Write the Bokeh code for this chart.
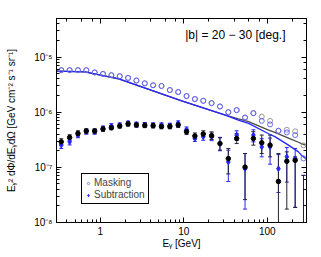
from bokeh.plotting import figure
from bokeh.models import (ColumnDataSource, Whisker, TeeHead, LogAxis, Legend, LegendItem,
                          CustomJSTickFormatter, Label)
from bokeh.embed import file_html
from bokeh.resources import INLINE

# ---- data ----
energy = [0.342, 0.431, 0.542, 0.682, 0.859, 1.081, 1.361, 1.714, 2.158, 2.716,
          3.420, 4.305, 5.420, 6.823, 8.590, 10.81, 13.61, 17.14, 21.58, 27.16,
          34.20, 43.05, 54.20, 68.23, 85.90, 108.1, 136.1, 171.4, 215.8, 271.6]

# total (open markers)
mask_total = [5.78e-6, 5.78e-6, 5.78e-6, 5.78e-6, 5.25e-6, 4.94e-6, 4.69e-6, 4.49e-6, 4.18e-6, 3.75e-6,
              3.34e-6, 3.08e-6, 2.99e-6, 2.52e-6, 2.32e-6, 1.96e-6, 1.73e-6, 1.61e-6, 1.46e-6, 1.27e-6,
              1.00e-6, 1.09e-6, 8.0e-7, 9.6e-7, 8.3e-7, 6.95e-7, 4.6e-7, 4.8e-7, 4.5e-7, 2.5e-7]
sub_total = [5.78e-6, 5.78e-6, 5.78e-6, 5.78e-6, 5.25e-6, 4.94e-6, 4.69e-6, 4.49e-6, 4.18e-6, 3.75e-6,
             3.34e-6, 3.08e-6, 2.99e-6, 2.52e-6, 2.32e-6, 1.96e-6, 1.73e-6, 1.61e-6, 1.46e-6, 1.27e-6,
             1.00e-6, 1.09e-6, 8.0e-7, 9.6e-7, 6.95e-7, 6.0e-7, 4.6e-7, 4.3e-7, 3.85e-7, 1.45e-7]

# residual (filled markers with error bars)
mask_res = [2.90e-7, 3.48e-7, 4.12e-7, 4.56e-7, 4.56e-7, 4.96e-7, 5.24e-7, 5.63e-7, 6.12e-7, 5.87e-7,
            5.77e-7, 5.70e-7, 5.53e-7, 5.53e-7, 5.87e-7, 4.43e-7, 3.70e-7, 4.02e-7, 3.74e-7, 2.70e-7,
            1.44e-7, 3.34e-7, 1.01e-7, 3.34e-7, 2.79e-7, 2.53e-7, 5.55e-8, 1.29e-7, 1.34e-7, 3e-9]
mask_lo = [2.55e-7, 3.1e-7, 3.7e-7, 4.1e-7, 4.1e-7, 4.5e-7, 4.8e-7, 5.15e-7, 5.6e-7, 5.35e-7,
           5.25e-7, 5.2e-7, 5.0e-7, 5.0e-7, 5.3e-7, 3.95e-7, 3.25e-7, 3.6e-7, 3.2e-7, 2.05e-7,
           7.6e-8, 2.7e-7, 2.6e-8, 2.53e-7, 1.78e-7, 1.55e-7, 5e-9, 1.75e-8, 1.88e-8, 1e-9]
mask_hi = [3.3e-7, 3.9e-7, 4.6e-7, 5.0e-7, 5.0e-7, 5.45e-7, 5.7e-7, 6.1e-7, 6.7e-7, 6.45e-7,
           6.35e-7, 6.25e-7, 6.1e-7, 6.1e-7, 6.5e-7, 4.95e-7, 4.2e-7, 4.6e-7, 4.4e-7, 3.44e-7,
           2.19e-7, 4.1e-7, 1.78e-7, 4.43e-7, 3.85e-7, 3.85e-7, 1.78e-7, 1.91e-7, 1.55e-7, 7.15e-8]

sub_res = [2.53e-7, 2.90e-7, 3.85e-7, 4.43e-7, 4.43e-7, 5.09e-7, 5.63e-7, 5.8e-7, 6.29e-7, 6.0e-7,
           5.87e-7, 5.8e-7, 5.8e-7, 5.7e-7, 6.29e-7, 4.82e-7, 3.34e-7, 3.6e-7, 3.58e-7, 2.70e-7,
           1.25e-7, 3.85e-7, 9.44e-8, 3.85e-7, 2.35e-7, 2.35e-7, 9.44e-8, 1.55e-7, 1.44e-7, 3e-9]
sub_lo = [2.2e-7, 2.55e-7, 3.45e-7, 4.0e-7, 4.0e-7, 4.6e-7, 5.1e-7, 5.25e-7, 5.7e-7, 5.45e-7,
          5.3e-7, 5.25e-7, 5.25e-7, 5.15e-7, 5.7e-7, 4.3e-7, 2.95e-7, 3.1e-7, 3.05e-7, 2.0e-7,
          5.55e-8, 3.1e-7, 1.75e-8, 2.9e-7, 1.55e-7, 1.14e-7, 3.5e-8, 5.4e-8, 1.88e-8, 1e-9]
sub_hi = [2.9e-7, 3.3e-7, 4.3e-7, 4.9e-7, 4.9e-7, 5.6e-7, 6.2e-7, 6.4e-7, 6.9e-7, 6.6e-7,
          6.5e-7, 6.4e-7, 6.4e-7, 6.3e-7, 6.95e-7, 5.4e-7, 3.8e-7, 4.2e-7, 4.2e-7, 3.5e-7,
          2.05e-7, 4.6e-7, 1.78e-7, 4.8e-7, 3.3e-7, 3.4e-7, 1.7e-7, 2.3e-7, 2.2e-7, 7.15e-8]

# model curves
model_e = [0.304, 0.656, 1.67, 9.46, 30.9, 45.1, 59.8, 103.7, 123.3, 179.6, 236.4, 257.0, 287.0]
model_mask = [5.55e-6, 5.38e-6, 4.01e-6, 1.61e-6, 8.95e-7, 7.56e-7, 6.75e-7, 4.75e-7, 4.30e-7, 3.40e-7, 2.85e-7, 2.70e-7, 2.53e-7]
model_sub = [5.55e-6, 5.38e-6, 4.01e-6, 1.61e-6, 8.95e-7, 7.2e-7, 6.29e-7, 4.07e-7, 3.6e-7, 2.53e-7, 1.91e-7, 1.65e-7, 1.44e-7]

x_ticks_lbl = ["1", "10", "100"]
annotation = "|b| = 20 \u2212 30 [deg.]"

BLUE = "#2626ff"
LBLUE = "#5a5aff"
GREY = "#8c8c8c"
DGREY = "#4a4a4a"
FONT = "Liberation Sans"

src = ColumnDataSource(dict(e=energy, mt=mask_total, st=sub_total,
                            mr=mask_res, mlo=mask_lo, mhi=mask_hi,
                            sr=sub_res, slo=sub_lo, shi=sub_hi))
msrc = ColumnDataSource(dict(e=model_e, m=model_mask, s=model_sub))

p = figure(x_axis_type="log", y_axis_type="log", x_range=(0.3, 295), y_range=(1e-8, 5e-5),
           frame_width=250, frame_height=204, output_backend="svg", toolbar_location=None,
           min_border_left=56, min_border_right=4, min_border_top=18, min_border_bottom=4)
p.background_fill_color = "white"
p.border_fill_color = "white"
p.outline_line_color = "black"
p.outline_line_alpha = 1
p.xgrid.visible = False
p.ygrid.visible = False

p.line("e", "m", source=msrc, line_color=DGREY, line_width=1.3)
p.line("e", "s", source=msrc, line_color=BLUE, line_width=1.3)

r_gm = p.scatter("e", "mt", source=src, marker="circle", size=5, fill_color=None,
                 line_color=GREY, line_width=0.9)
p.scatter("e", "st", source=src, marker="circle", size=5, fill_color=None,
          line_color=LBLUE, line_width=0.9)

p.add_layout(Whisker(source=src, base="e", upper="shi", lower="slo", dimension="height",
                     line_color=BLUE, line_width=1,
                     upper_head=TeeHead(size=4, line_color=BLUE, line_width=1),
                     lower_head=TeeHead(size=4, line_color=BLUE, line_width=1)))
r_bd = p.scatter("e", "sr", source=src, marker="diamond", size=5.5, fill_color=BLUE,
                 line_color=BLUE)
p.add_layout(Whisker(source=src, base="e", upper="mhi", lower="mlo", dimension="height",
                     line_color="#222233", line_width=1,
                     upper_head=TeeHead(size=4, line_color="#222233", line_width=1),
                     lower_head=TeeHead(size=4, line_color="#222233", line_width=1)))
p.scatter("e", "mr", source=src, marker="circle", size=4.5, fill_color="black",
          line_color="black")

yfmt = CustomJSTickFormatter(code="""
const e = Math.round(Math.log10(tick));
const m = {'-':'\u207B','0':'\u2070','1':'\u00B9','2':'\u00B2','3':'\u00B3','4':'\u2074','5':'\u2075','6':'\u2076','7':'\u2077','8':'\u2078','9':'\u2079'};
return '10' + String(e).split('').map(c => m[c]).join('');
""")
xfmt = CustomJSTickFormatter(args=dict(lbl=x_ticks_lbl), code="""
const e = Math.round(Math.log10(tick));
return (e >= 0 && e < lbl.length) ? lbl[e] : String(tick);
""")

def style(ax):
    ax.axis_line_color = "black"
    ax.axis_line_width = 1
    ax.major_tick_in = 5
    ax.major_tick_out = 0
    ax.minor_tick_in = 3
    ax.minor_tick_out = 0
    ax.major_tick_line_color = "black"
    ax.minor_tick_line_color = "black"
    ax.major_label_text_font = FONT
    ax.major_label_text_font_size = "10px"
    ax.major_label_text_color = "black"
    ax.axis_label_text_font = FONT
    ax.axis_label_text_font_style = "normal"
    ax.axis_label_text_color = "black"

for ax in p.xaxis:
    style(ax)
    ax.formatter = xfmt
    ax.axis_label = "E\u1D67 [GeV]"
    ax.axis_label_text_font_size = "10px"
    ax.major_label_standoff = 4
    ax.axis_label_standoff = 0
for ax in p.yaxis:
    style(ax)
    ax.formatter = yfmt
    ax.axis_label = "E\u1D67\u00B2 d\u03A6/dE\u1D67d\u03A9 [GeV cm\u207B\u00B2 s\u207B\u00B9 sr\u207B\u00B9]"
    ax.axis_label_text_font_size = "10px"
    ax.major_label_standoff = 4
    ax.axis_label_standoff = 14

top = LogAxis(formatter=CustomJSTickFormatter(code="return '';"))
right = LogAxis(formatter=CustomJSTickFormatter(code="return '';"))
for ax in (top, right):
    style(ax)
    ax.major_label_text_font_size = "0px"
    ax.major_label_standoff = 0
p.add_layout(top, "above")
p.add_layout(right, "right")

legend = Legend(items=[LegendItem(label="Masking", renderers=[r_gm]),
                       LegendItem(label="Subtraction", renderers=[r_bd])],
                location=(25, 18))
legend.border_line_color = "#000000"
legend.border_line_alpha = 1.0
legend.border_line_width = 1.3
legend.background_fill_color = "white"
legend.background_fill_alpha = 1
legend.label_text_font = FONT
legend.label_text_font_size = "10px"
legend.glyph_width = 6
legend.glyph_height = 8
legend.label_height = 10
legend.label_standoff = 3
legend.padding = 3
legend.spacing = 1
legend.margin = 0
p.add_layout(legend, "center")

p.add_layout(Label(x=229, y=188, x_units="screen", y_units="screen", text=annotation,
                   text_align="right", text_baseline="middle", text_font=FONT,
                   text_font_size="12px", text_color="black"))

open("out.html", "w").write(file_html(p, INLINE))
